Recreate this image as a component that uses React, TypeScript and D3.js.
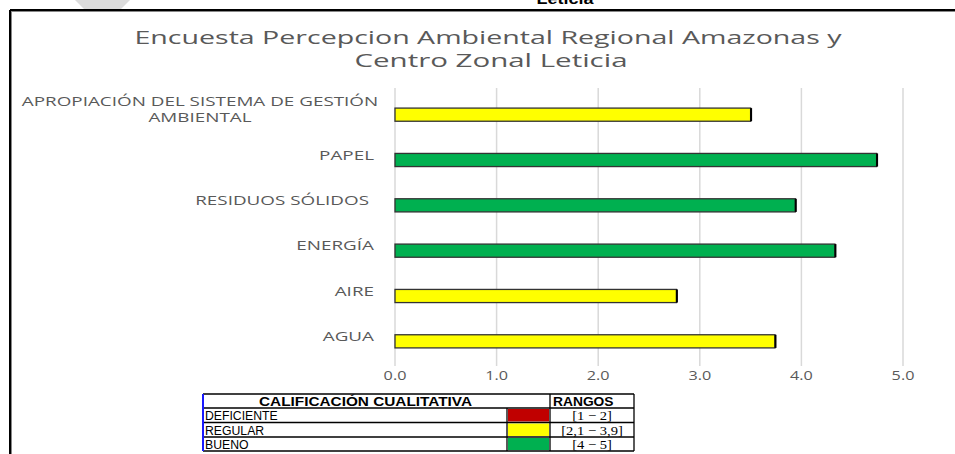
import React from "react";
import * as d3 from "d3";

// survey categories (top to bottom as drawn)
const categories = [
  "APROPIACIÓN DEL SISTEMA DE GESTIÓN\nAMBIENTAL",
  "PAPEL",
  "RESIDUOS SÓLIDOS",
  "ENERGÍA",
  "AIRE",
  "AGUA",
];
const values = [3.5, 4.74, 3.94, 4.33, 2.77, 3.74];
const grades = ["REGULAR", "BUENO", "BUENO", "BUENO", "REGULAR", "REGULAR"];
const xTicks = [0, 1, 2, 3, 4, 5];

const legendLabels = ["DEFICIENTE", "REGULAR", "BUENO"];
const legendRanges = ["[1 − 2]", "[2,1 − 3,9]", "[4 − 5]"];
const gradeColors: Record<string, string> = {
  DEFICIENTE: "#C00000",
  REGULAR: "#FFFF00",
  BUENO: "#00B050",
};

const W = 955;
const H = 454;
const SX = 1.45; // the picture is stretched sideways
const grey = "#595959";

const Stretch = ({ x, y, sx = SX, children, ...rest }: any) => (
  <g transform={`translate(${x},${y}) scale(${sx},1)`}>
    <text {...rest}>{children}</text>
  </g>
);

export default function App() {
  const x = d3.scaleLinear().domain([0, 5]).range([395, 903]);
  const y = d3.scaleBand<string>().domain(categories).range([92, 364]).paddingInner(0.71).paddingOuter(0.355);
  const bw = y.bandwidth();

  // table geometry
  const tx = [203, 507, 550, 634];
  const ty = [394, 408, 422.5, 437, 451];

  return (
    <svg width={W} height={H} style={{ position: "absolute", left: 0, top: 0, background: "#fff" }}>
      <rect width={W} height={H} fill="#fff" />
      {/* fragment of the page above */}
      <polygon points="75,0 130,0 121,9 84,9" fill="#dcdcdc" />
      <Stretch x={565} y={4} sx={1.2} textAnchor="middle" fontFamily="Liberation Sans, Arial" fontWeight="bold" fontSize={15} fill="#000">
        Leticia
      </Stretch>
      {/* frame */}
      <line x1={10} x2={W} y1={10} y2={10} stroke="#000" strokeWidth={2} />
      <line x1={10} x2={W} y1={11.5} y2={11.5} stroke="#888" strokeWidth={1} />
      <line x1={10} x2={10} y1={10} y2={H} stroke="#000" strokeWidth={2} />
      <line x1={11.5} x2={11.5} y1={11} y2={H} stroke="#888" strokeWidth={1} />

      {/* title */}
      <text x={488} y={44} textAnchor="middle" fontFamily="Open Sans" fontSize={18} fill={grey} textLength={707} lengthAdjust="spacingAndGlyphs">
        Encuesta Percepcion Ambiental Regional Amazonas y
      </text>
      <text x={491} y={67} textAnchor="middle" fontFamily="Open Sans" fontSize={18} fill={grey} textLength={273} lengthAdjust="spacingAndGlyphs">
        Centro Zonal Leticia
      </text>

      {/* gridlines */}
      {xTicks.map((t) => (
        <line key={t} x1={x(t)} x2={x(t)} y1={88} y2={366} stroke="#d9d9d9" strokeWidth={1.5} />
      ))}
      {xTicks.map((t) => (
        <Stretch key={"l" + t} x={x(t)} y={380} sx={1.35} textAnchor="middle" fontFamily="Open Sans" fontSize={12} fill={grey}>
          {d3.format(".1f")(t)}
        </Stretch>
      ))}

      {/* bars */}
      {categories.map((c, i) => (
        <g key={c}>
          <rect x={x(0)} y={y(c)!} width={x(values[i]) - x(0)} height={bw} fill={gradeColors[grades[i]]} stroke="#333" strokeWidth={1.3} />
          <line x1={x(values[i]) + 0.5} x2={x(values[i]) + 0.5} y1={y(c)!} y2={y(c)! + bw} stroke="#000" strokeWidth={2} />
        </g>
      ))}

      {/* category labels */}
      {categories.map((c) => {
        const lines = c.split("\n");
        const cy = y(c)! + bw / 2 - 5;
        if (lines.length === 1) {
          return (
            <Stretch key={c} x={c === "RESIDUOS SÓLIDOS" ? 369 : 374} y={cy + 4.5} textAnchor="end" fontFamily="Open Sans" fontSize={13} fill={grey}>
              {c}
            </Stretch>
          );
        }
        return (
          <g key={c}>
            <Stretch x={200} y={cy - 8 + 4.5} textAnchor="middle" fontFamily="Open Sans" fontSize={13} fill={grey}>
              {lines[0]}
            </Stretch>
            <Stretch x={200} y={cy + 8 + 4.5} textAnchor="middle" fontFamily="Open Sans" fontSize={13} fill={grey}>
              {lines[1]}
            </Stretch>
          </g>
        );
      })}

      {/* qualitative table */}
      <g>
        <rect x={tx[0]} y={ty[0]} width={tx[3] - tx[0]} height={ty[4] - ty[0]} fill="#fff" />
        {legendLabels.map((l, i) => (
          <rect key={l} x={tx[1] + 1} y={ty[i + 1] + 1} width={tx[2] - tx[1] - 2} height={ty[i + 2] - ty[i + 1] - 2} fill={gradeColors[l]} />
        ))}
        {ty.map((v, i) => (
          <line key={"h" + i} x1={tx[0]} x2={tx[3]} y1={v} y2={v} stroke="#000" strokeWidth={1.3} />
        ))}
        <line x1={tx[0]} x2={tx[0]} y1={ty[0]} y2={ty[4]} stroke="#1a1aff" strokeWidth={2} />
        <line x1={tx[1]} x2={tx[1]} y1={ty[1]} y2={ty[4]} stroke="#000" strokeWidth={1.3} />
        <line x1={tx[2]} x2={tx[2]} y1={ty[0]} y2={ty[4]} stroke="#000" strokeWidth={1.3} />
        <line x1={tx[3]} x2={tx[3]} y1={ty[0]} y2={ty[4]} stroke="#000" strokeWidth={1.3} />
        <Stretch x={(tx[0] + tx[2]) / 2 - 11} y={ty[1] - 2.5} sx={1.28} textAnchor="middle" fontFamily="Liberation Sans, Arial" fontWeight="bold" fontSize={12} fill="#000">
          CALIFICACIÓN CUALITATIVA
        </Stretch>
        <Stretch x={tx[2] + 3} y={ty[1] - 2.5} sx={1.15} fontFamily="Liberation Sans, Arial" fontWeight="bold" fontSize={12} fill="#000">
          RANGOS
        </Stretch>
        {legendLabels.map((l, i) => (
          <Stretch key={l} x={tx[0] + 2} y={ty[i + 2] - 2.5} sx={1.02} fontFamily="Liberation Sans, Arial" fontSize={12} fill="#000">
            {l}
          </Stretch>
        ))}
        {legendRanges.map((r, i) => (
          <Stretch key={r} x={(tx[2] + tx[3]) / 2} y={ty[i + 2] - 2.5} sx={1.12} textAnchor="middle" fontFamily="Liberation Serif, Times New Roman" fontSize={13} fill="#000">
            {r}
          </Stretch>
        ))}
      </g>
    </svg>
  );
}
